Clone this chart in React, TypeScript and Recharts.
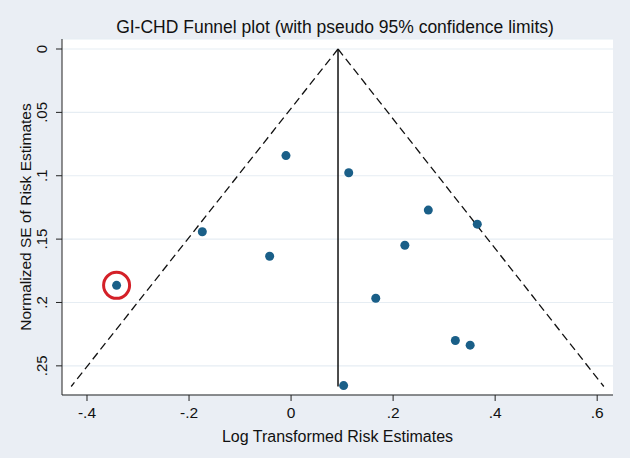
import React from 'react';
import {
  ScatterChart,
  Scatter,
  XAxis,
  YAxis,
  CartesianGrid,
  ReferenceLine,
  ReferenceDot,
  Label,
} from 'recharts';

// Study effect estimates (log risk) and their normalized standard errors
const estimates = [-0.342, -0.174, -0.042, -0.010, 0.113, 0.269, 0.223, 0.365, 0.166, 0.322, 0.351, 0.103];
const standardErrors = [0.1865, 0.1442, 0.1635, 0.0841, 0.0976, 0.1271, 0.1548, 0.1382, 0.1967, 0.2300, 0.2337, 0.2656];
const highlightedIndex = 0;

// Funnel: pooled estimate and pseudo 95% limits at the largest SE
const pooledEstimate = 0.092;
const maxSE = 0.2663;
const lowerLimitAtMax = -0.431;
const upperLimitAtMax = 0.613;

const xTicks = [-0.4, -0.2, 0, 0.2, 0.4, 0.6];
const yTicks = [0, 0.05, 0.1, 0.15, 0.2, 0.25];
const xDomain = [-0.449, 0.631];
const yDomain = [-0.0079, 0.273];

const title = 'GI-CHD Funnel plot (with pseudo 95% confidence limits)';
const xTitle = 'Log Transformed Risk Estimates';
const yTitle = 'Normalized SE of Risk Estimates';

const points = estimates.map((x, i) => ({ x, y: standardErrors[i] }));

const fmt = (v: number) => (v === 0 ? '0' : String(v).replace(/^(-?)0\./, '$1.'));

const FONT = '"Liberation Sans", Arial, sans-serif';
const BG = '#eaeef4';
const TEXT = '#111';

const YTick = (props: any) => {
  const { y, payload } = props;
  return (
    <text
      transform={`translate(47, ${y}) rotate(-90)`}
      textAnchor="middle"
      fontSize={15}
      fontFamily={FONT}
      fill={TEXT}
    >
      {fmt(payload.value)}
    </text>
  );
};

const Dot = (props: any) => {
  const { cx, cy } = props;
  return <circle cx={cx} cy={cy} r={4.5} fill="#1a5f88" />;
};

export default function App() {
  return (
    <div style={{ position: 'absolute', left: 0, top: 0, width: 630, height: 458, background: BG }}>
      <ScatterChart
        width={630}
        height={458}
        margin={{ top: 39, right: 17, bottom: 0, left: 0 }}
        style={{ fontFamily: FONT }}
      >
        <CartesianGrid vertical={false} fill="#ffffff" stroke="#e6edf3" strokeWidth={1.2} />
        <XAxis
          type="number"
          dataKey="x"
          domain={xDomain}
          ticks={xTicks}
          allowDataOverflow
          height={63}
          tickSize={6}
          tickMargin={6}
          tickFormatter={fmt}
          tick={{ fontSize: 15.5, fill: TEXT, fontFamily: FONT }}
          axisLine={{ stroke: '#222', strokeWidth: 1 }}
          tickLine={{ stroke: '#222', strokeWidth: 1 }}
        >
          <Label
            value={xTitle}
            position="insideBottom"
            offset={16}
            style={{ fontSize: 16, fill: TEXT, fontFamily: FONT }}
          />
        </XAxis>
        <YAxis
          type="number"
          dataKey="y"
          domain={yDomain}
          ticks={yTicks}
          reversed
          allowDataOverflow
          width={62}
          tickSize={6}
          tick={<YTick />}
          axisLine={{ stroke: '#222', strokeWidth: 1 }}
          tickLine={{ stroke: '#222', strokeWidth: 1 }}
        >
          <Label
            value={yTitle}
            angle={-90}
            position="insideLeft"
            offset={0}
            dx={25}
            style={{ fontSize: 15.5, fill: TEXT, fontFamily: FONT, textAnchor: 'middle' }}
          />
        </YAxis>
        <ReferenceLine
          segment={[{ x: pooledEstimate, y: 0 }, { x: lowerLimitAtMax, y: maxSE }]}
          stroke="#111"
          strokeWidth={1.3}
          strokeDasharray="8 4.5"
          ifOverflow="visible"
        />
        <ReferenceLine
          segment={[{ x: pooledEstimate, y: 0 }, { x: upperLimitAtMax, y: maxSE }]}
          stroke="#111"
          strokeWidth={1.3}
          strokeDasharray="8 4.5"
          ifOverflow="visible"
        />
        <ReferenceLine
          segment={[{ x: pooledEstimate, y: 0 }, { x: pooledEstimate, y: maxSE }]}
          stroke="#111"
          strokeWidth={1.5}
          ifOverflow="visible"
        />
        <Scatter data={points} shape={<Dot />} isAnimationActive={false} />
        <ReferenceDot
          x={points[highlightedIndex].x}
          y={points[highlightedIndex].y}
          r={13}
          fill="none"
          stroke="#d42028"
          strokeWidth={3}
          ifOverflow="visible"
        />
      </ScatterChart>
      <svg
        width={630}
        height={50}
        style={{ position: 'absolute', left: 0, top: 0, pointerEvents: 'none' }}
      >
        <text x={335} y={33} textAnchor="middle" fontSize={17.5} fontFamily={FONT} fill={TEXT}>
          {title}
        </text>
      </svg>
    </div>
  );
}
